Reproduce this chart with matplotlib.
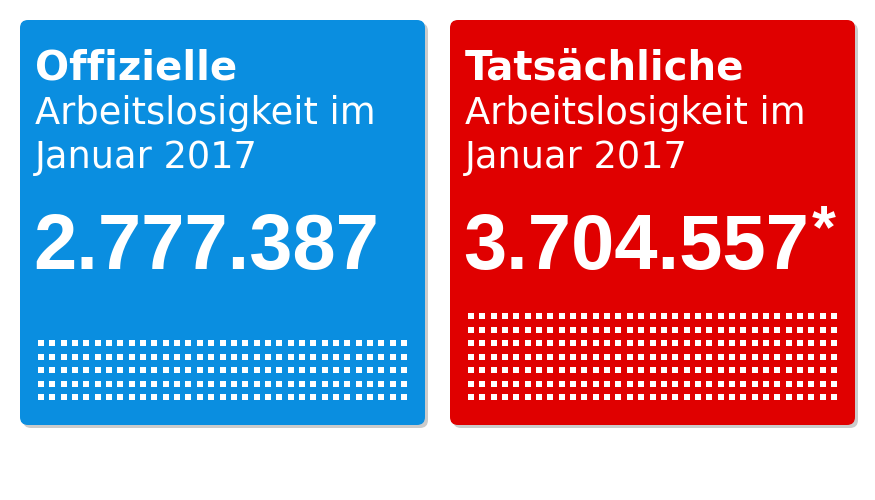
import matplotlib.pyplot as plt
from matplotlib.patches import FancyBboxPatch
import numpy as np

titles = ["Offizielle", "Tatsächliche"]
subtitle = ["Arbeitslosigkeit im", "Januar 2017"]
numbers = ["2.777.387", "3.704.557"]
dot_rows = [5, 7]
dot_cols = 33
colors = ["#0a8ee0", "#e00000"]

fig = plt.figure(figsize=(8.75, 5), dpi=100)
ax = fig.add_axes([0, 0, 1, 1])
ax.set_xlim(0, 875)
ax.set_ylim(500, 0)
ax.axis("off")

for i, (t, num, nr, c) in enumerate(zip(titles, numbers, dot_rows, colors)):
    x0 = 20 + i * 430
    # shadow then panel
    ax.add_patch(FancyBboxPatch((x0 + 3, 23), 405, 405, boxstyle="round,pad=0,rounding_size=8",
                                fc="#999999", ec="none", alpha=0.5))
    ax.add_patch(FancyBboxPatch((x0, 20), 405, 405, boxstyle="round,pad=0,rounding_size=8",
                                fc=c, ec="none"))
    ax.text(x0 + 15, 68, t, color="white", fontsize=29, fontweight="heavy",
            family="DejaVu Sans", va="center")
    for k, s in enumerate(subtitle):
        ax.text(x0 + 15, 113 + k * 45, s, color="white", fontsize=26.5,
                family="DejaVu Sans", va="center")
    ax.text(x0 + 13, 248, num, color="white", fontsize=56, fontweight="bold",
            family="Liberation Sans", va="center")
    if i == 1:
        ax.text(x0 + 362, 232, "*", color="white", fontsize=44, fontweight="bold",
                family="Liberation Sans", va="center")
    xs = np.linspace(x0 + 21, x0 + 384, dot_cols)
    ys = 397 - np.arange(nr) * 13.5
    gx, gy = np.meshgrid(xs, ys)
    ax.scatter(gx.ravel(), gy.ravel(), marker="s", s=18, color="white", linewidths=0)

fig.savefig("out.png", dpi=100)
